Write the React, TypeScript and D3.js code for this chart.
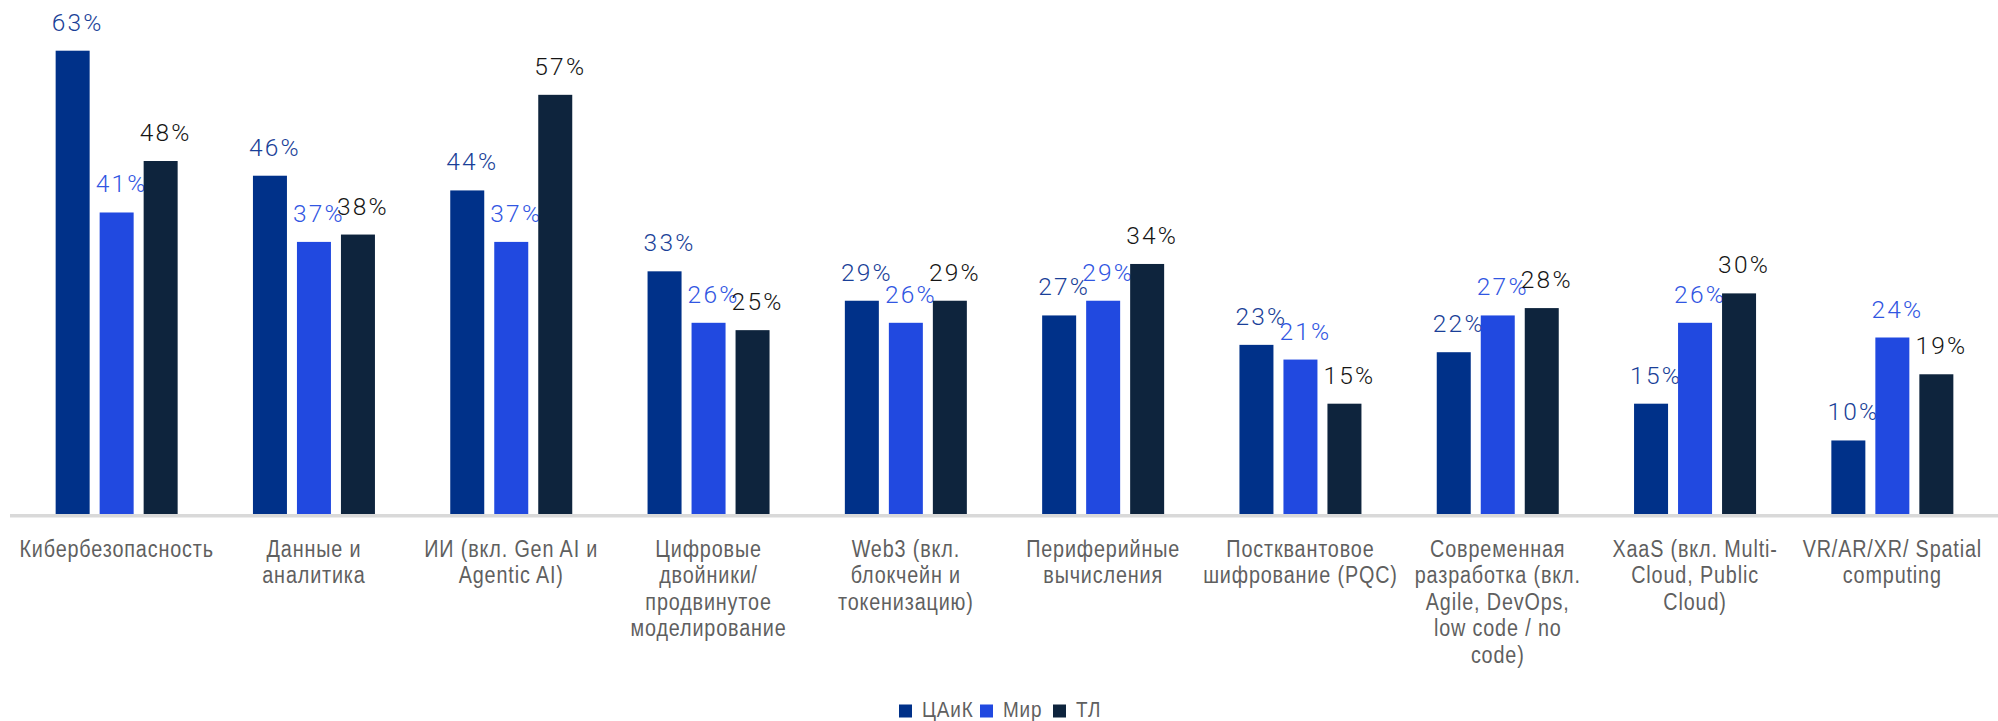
import React from "react";
import * as d3 from "d3";

const categories: string[][] = [
  ["Кибербезопасность"],
  ["Данные и", "аналитика"],
  ["ИИ (вкл. Gen AI и", "Agentic AI)"],
  ["Цифровые", "двойники/", "продвинутое", "моделирование"],
  ["Web3 (вкл.", "блокчейн и", "токенизацию)"],
  ["Периферийные", "вычисления"],
  ["Постквантовое", "шифрование (PQC)"],
  ["Современная", "разработка (вкл.", "Agile, DevOps,", "low code / no", "code)"],
  ["XaaS (вкл. Multi-", "Cloud, Public", "Cloud)"],
  ["VR/AR/XR/ Spatial", "computing"],
];

const seriesNames = ["ЦАиК", "Мир", "ТЛ"];
const caikValues = [63, 46, 44, 33, 29, 27, 23, 22, 15, 10];
const mirValues = [41, 37, 37, 26, 26, 29, 21, 27, 26, 24];
const tlValues = [48, 38, 57, 25, 29, 34, 15, 28, 30, 19];

const barColors = ["#003189", "#2149e0", "#0e243d"];
const labelColors = ["#1a3f98", "#3156e2", "#151515"];

const W = 1998;
const H = 721;
const baseY = 514;

export default function App() {
  const series = [caikValues, mirValues, tlValues];
  const idx = categories.map((_, i) => String(i));
  const x0 = d3.scaleBand<string>().domain(idx).range([18, 1991]).padding(0);
  const inner = 122;
  const x1 = d3
    .scaleBand<string>()
    .domain(["0", "1", "2"])
    .range([0, inner])
    .paddingInner(10 / 44)
    .paddingOuter(0);
  const y = d3.scaleLinear().domain([0, 63]).range([baseY, 50.7]);
  const catFont = "'Liberation Sans', Arial, sans-serif";
  const sx = 0.86;

  const legendX = [899, 980, 1053];

  return (
    <>
      <style>{"body{margin:0}"}</style>
      <svg width={W} height={H} style={{ display: "block" }}>
        <rect x={0} y={0} width={W} height={H} fill="#ffffff" />
        {categories.map((cat, i) => {
          const gx = (x0(String(i)) as number) + (x0.bandwidth() - inner) / 2;
          const cx = (x0(String(i)) as number) + x0.bandwidth() / 2;
          return (
            <g key={i}>
              {series.map((vals, s) => {
                const bx = gx + (x1(String(s)) as number);
                const bw = x1.bandwidth();
                const v = vals[i];
                return (
                  <g key={s}>
                    <rect x={bx} y={y(v)} width={bw} height={baseY - y(v)} fill={barColors[s]} />
                    <text
                      x={bx + bw / 2 + 5}
                      y={y(v) - 20}
                      textAnchor="middle"
                      fontFamily="Roboto, sans-serif"
                      fontWeight={300}
                      fontSize={24.5}
                      letterSpacing={2.2}
                      fill={labelColors[s]}
                    >
                      {v}%
                    </text>
                  </g>
                );
              })}
              <g transform={`translate(${cx},0) scale(${sx},1)`}>
                <text
                  x={0}
                  y={557}
                  textAnchor="middle"
                  fontFamily={catFont}
                  fontSize={23}
                  letterSpacing={1}
                  fill="#5f5f5f"
                >
                  {cat.map((line, l) => (
                    <tspan key={l} x={0} y={557 + l * 26.5}>
                      {line}
                    </tspan>
                  ))}
                </text>
              </g>
            </g>
          );
        })}
        <rect x={10} y={514} width={W - 10} height={3.5} fill="#d9d9d9" />
        {seriesNames.map((name, s) => (
          <g key={name}>
            <rect x={legendX[s]} y={704.5} width={13} height={13} fill={barColors[s]} />
            <g transform={`translate(${legendX[s] + 23},717) scale(${sx},1)`}>
              <text x={0} y={0} fontFamily={catFont} fontSize={22} letterSpacing={1} fill="#5f5f5f">
                {name}
              </text>
            </g>
          </g>
        ))}
      </svg>
    </>
  );
}
